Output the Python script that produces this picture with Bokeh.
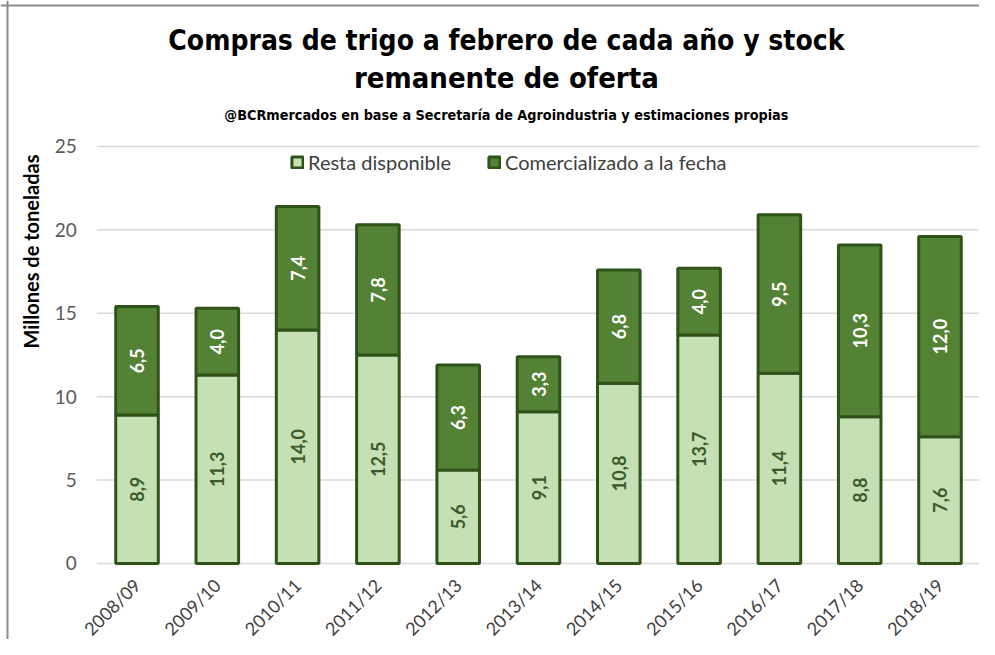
import math
from bokeh.plotting import figure
from bokeh.models import ColumnDataSource, Legend, LegendItem, Range1d, Label, Span
from bokeh.core.properties import value
from bokeh.embed import file_html
from bokeh.resources import INLINE

campanias = ["2008/09", "2009/10", "2010/11", "2011/12", "2012/13", "2013/14",
             "2014/15", "2015/16", "2016/17", "2017/18", "2018/19"]
resta_disponible = [8.9, 11.3, 14.0, 12.5, 5.6, 9.1, 10.8, 13.7, 11.4, 8.8, 7.6]
comercializado = [6.5, 4.0, 7.4, 7.8, 6.3, 3.3, 6.8, 4.0, 9.5, 10.3, 12.0]
y_ticks = [0, 5, 10, 15, 20, 25]

titulo1 = "Compras de trigo a febrero de cada año y stock"
titulo2 = "remanente de oferta"
subtitulo = "@BCRmercados en base a Secretaría de Agroindustria y estimaciones propias"
eje_y = "Millones de toneladas"
serie_resta = "Resta disponible"
serie_com = "Comercializado a la fecha"

LIGHT = "#C5E0B4"
DARK = "#548235"
EDGE = "#2F5219"
GRID = "#D9D9D9"
BORDER = "#8C8C8C"
BODY_FONT = "Lato"
TITLE_FONT = "DejaVu Sans Condensed, Liberation Sans"

# The plotting frame spans the whole canvas; categories sit at positions 0..10.
X_RANGE = (-1.700, 10.492)
Y_RANGE = (-4.556, 33.75)
TITLE_X = 4.60
CAT_LABEL_Y = -1.1
YLABEL_POS = (-1.326, 18.7)
BORDER_LEFT_X = -1.613
BORDER_TOP_Y = 33.45

fmt = lambda v: f"{v:.1f}".replace(".", ",")
pos = list(range(len(campanias)))
left_edge = pos[0] - 0.5
right_edge = pos[-1] + 0.5

src = ColumnDataSource(dict(
    x=pos,
    cat=campanias,
    resta=resta_disponible,
    com=comercializado,
    resta_mid=[r / 2 for r in resta_disponible],
    com_mid=[r + c / 2 for r, c in zip(resta_disponible, comercializado)],
    resta_lbl=[fmt(v) for v in resta_disponible],
    com_lbl=[fmt(v) for v in comercializado],
    cat_y=[CAT_LABEL_Y] * len(campanias),
))
grid_src = ColumnDataSource(dict(
    x0=[left_edge] * len(y_ticks), x1=[right_edge] * len(y_ticks), y=y_ticks,
    lbl=[str(t) for t in y_ticks],
))

p = figure(width=979, height=639, x_range=Range1d(*X_RANGE), y_range=Range1d(*Y_RANGE),
           output_backend="svg", toolbar_location=None,
           min_border_left=0, min_border_right=0, min_border_top=0, min_border_bottom=0)
p.outline_line_color = None
p.background_fill_color = "white"
p.border_fill_color = "white"
p.title.visible = False
p.xaxis.visible = False
p.yaxis.visible = False
p.grid.visible = False

# chart-area border (left and top edges as in the reference)
p.add_layout(Span(location=BORDER_LEFT_X, dimension="height", line_color=BORDER, line_width=2))
p.add_layout(Span(location=BORDER_TOP_Y, dimension="width", line_color=BORDER, line_width=2))

# horizontal gridlines and value-axis labels
p.segment(x0="x0", x1="x1", y0="y", y1="y", source=grid_src, line_color=GRID, line_width=1.5)
p.text(x="x0", y="y", text="lbl", source=grid_src, x_offset=-20,
       text_align="right", text_baseline="middle", text_color="#595959",
       text_font=value(BODY_FONT), text_font_size="19px")

r = p.vbar_stack(["resta", "com"], x="x", width=0.53, source=src,
                 fill_color=[LIGHT, DARK], line_color=EDGE, line_width=3)

p.text(x="x", y="resta_mid", text="resta_lbl", source=src, angle=math.pi / 2,
       text_align="center", text_baseline="middle", text_color="#3A5A2A",
       text_font=value(BODY_FONT), text_font_size="18px", text_font_style="bold")
p.text(x="x", y="com_mid", text="com_lbl", source=src, angle=math.pi / 2,
       text_align="center", text_baseline="middle", text_color="white",
       text_font=value(BODY_FONT), text_font_size="18px", text_font_style="bold")

# category labels (rotated 45 degrees, ending under each bar)
p.text(x="x", y="cat_y", text="cat", source=src, angle=math.pi / 4,
       text_align="right", text_baseline="middle", text_color="#404040",
       text_font=value(BODY_FONT), text_font_size="18px")

legend = Legend(items=[LegendItem(label=serie_resta, renderers=[r[0]]),
                       LegendItem(label=serie_com, renderers=[r[1]])],
                location=(290, 465), orientation="horizontal",
                border_line_color=None, background_fill_alpha=0,
                label_text_font=BODY_FONT, label_text_font_size="20px",
                label_text_color="#404040", glyph_width=14, glyph_height=14,
                spacing=36, margin=0, padding=2, label_standoff=4)
p.add_layout(legend)

# titles
for txt, yy, size in [(titulo1, 31.35, "28px"), (titulo2, 29.08, "29px"), (subtitulo, 26.86, "14.3px")]:
    p.add_layout(Label(x=TITLE_X, y=yy, text=txt, text_align="center", text_baseline="middle",
                       text_font=TITLE_FONT, text_font_style="bold", text_font_size=size,
                       text_color="black"))

p.add_layout(Label(x=YLABEL_POS[0], y=YLABEL_POS[1], text=eje_y, angle=math.pi / 2,
                   text_align="center", text_baseline="middle", text_font=BODY_FONT,
                   text_font_style="bold", text_font_size="20px", text_color="black"))

open("out.html", "w").write(file_html(p, INLINE))
